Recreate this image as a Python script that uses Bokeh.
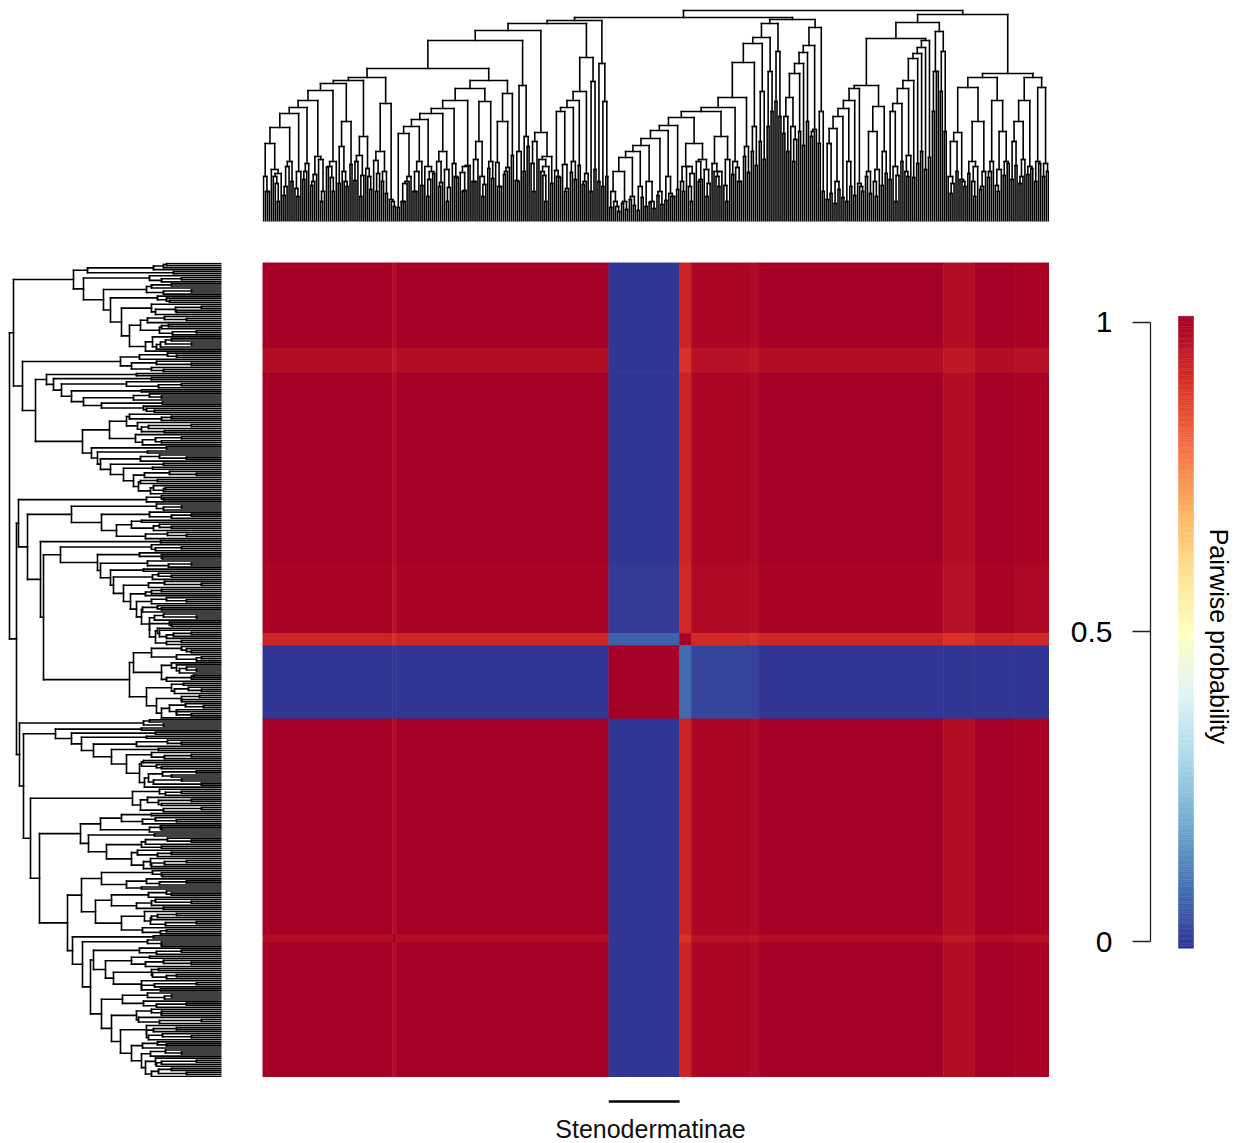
import numpy as np
from bokeh.plotting import figure
from bokeh.layouts import column, row
from bokeh.models import (ColumnDataSource, LinearColorMapper, LinearAxis, Range1d,
                          FixedTicker, Spacer, CustomJSTickFormatter)
from bokeh.transform import transform
from bokeh.core.properties import value
from bokeh.embed import file_html
from bokeh.resources import INLINE

# ---------------------------------------------------------------- data
# Column (top) dendrogram: merge heights between neighbouring tip pairs, per clade
TOP_J = [30, 78, 45, 20, 94, 35, 60, 108, 25, 114, 50, 121, 40, 65, 20, 131, 55, 30, 138, 75,
         40, 100, 141, 60, 25, 85, 45, 144, 30, 70, 50, 118, 20]
TOP_K = [88, 20, 40, 95, 30, 60, 102, 25, 50, 108, 35, 70, 20, 113, 45, 121, 30, 55, 133, 40,
         80, 25, 120, 60, 141, 35, 100, 50, 128]
TOP_I = [40, 136, 85]
TOP_G = [30, 89, 50, 20, 65]
TOP_E = [45, 110, 30, 114, 60, 121, 130, 40, 164, 140]
TOP_C = [158, 120]
TOP_LRA = [30, 15, 50, 20, 64, 25, 70, 35, 76, 40, 20, 83, 30, 91, 45, 25, 96, 104, 30, 55,
           20, 78, 40, 62, 25, 110, 50, 35, 85, 20, 114, 60, 40, 124, 75, 159, 95, 178, 130, 184,
           150, 198, 170]
TOP_LRB = [105, 124, 60, 148, 158, 169, 176, 90, 194, 110]
TOP_RA1 = [78, 93, 40, 105, 113, 60, 121, 133, 35, 136, 50, 90, 25, 115, 70]
TOP_RA2 = [110, 20, 118, 133, 45, 141, 163, 168, 174, 181]
TOP_RA3 = [150, 190, 170]
TOP_RB = [28, 80, 89, 40, 134, 60, 25, 100, 35, 144, 50, 121, 30, 90, 60, 148, 80, 100, 45, 121,
          55, 144, 60, 134, 58]
TOP_CLADES = [TOP_J, TOP_K, TOP_I, TOP_G, TOP_E, TOP_C, TOP_LRA, TOP_LRB,
              TOP_RA1, TOP_RA2, TOP_RA3, TOP_RB]
TOP_JOINS = [153, 181, 191, 198, 201, 204, 202, 211, 183, 199, 207]
# merge height inside each terminal pair (left to right)
TOP_PAIRS = [45, 30, 52, 38, 48, 26, 55, 40, 33, 50,
             42, 58, 36, 47, 62, 30, 54, 44, 60, 38,
             50, 35, 57, 41, 66, 46, 53, 32, 61, 48,
             40, 28, 22, 15,
             14, 20, 38, 45, 30, 50,
             36, 55, 42, 48, 60, 39, 52, 34, 58, 44,
             49, 31, 56, 40, 62, 45, 37, 53, 43, 59,
             35, 47, 54, 66, 41, 70, 50, 75, 58, 80,
             62, 46, 55, 38, 51, 44, 57, 33, 49, 42,
             56, 37, 48, 30, 52, 40, 35, 45,
             14, 20, 10, 18, 12, 22, 16, 11, 24, 15, 19, 13, 26, 17, 21, 28, 25, 32,
             40, 55, 35, 48, 60, 42, 52, 38, 58, 45, 50, 36, 62, 47,
             54, 40, 65, 49, 70, 56, 80, 62, 95, 110,
             120, 105, 88, 70, 95, 82, 90, 76, 100, 85,
             92, 78, 30, 22, 28, 18, 32, 24, 20, 35,
             26, 38, 30, 45, 28, 40, 52, 36, 48, 42,
             55, 46, 60, 50, 66, 44, 58, 70, 52, 64,
             110, 150, 130, 90, 45, 38, 50, 42, 35, 48,
             40, 55, 32, 50, 44, 60, 36, 52, 46, 58,
             42, 56, 38, 62, 47, 53, 40, 58, 45, 50]

# Row (left) dendrogram
LEFT_T1 = [58, 134, 148, 40, 138, 70, 30, 118, 55, 111, 20, 45, 100, 35, 81, 60, 25, 92, 50, 30, 65]
LEFT_T2 = [45, 101, 30, 70, 199, 175, 168, 40, 160, 150, 60, 138, 120, 75, 186, 50, 95, 30, 80,
           112, 40, 60, 139, 130, 124, 35, 121, 111, 98, 25, 88, 81, 68, 58]
LEFT_BU = [58, 203, 40, 150, 30, 120, 90, 50, 105, 35, 194, 181, 40, 161, 60, 124, 30, 121, 111,
           50, 108, 20, 98, 70, 91, 35, 85, 60, 80, 25, 72, 50, 64, 30, 55, 40, 178, 35, 70, 20,
           88, 45, 25, 60, 30, 92, 50, 20, 75, 40, 65, 18, 45, 30]
LEFT_BL = [78, 202, 166, 150, 140, 40, 128, 110, 30, 95, 80, 60, 25, 50, 40, 20, 198, 40, 89, 30,
           60, 20, 191, 100, 45, 121, 60, 141, 133, 30, 80, 115, 50, 90, 35, 70, 182, 60, 120, 35,
           95, 140, 50, 110, 30, 85, 126, 45, 70, 25, 100, 55, 154, 149, 60, 139, 40, 128, 90, 30,
           116, 70, 45, 108, 25, 80, 131, 50, 99, 35, 120, 60, 85, 20, 110, 45, 75, 30, 101, 55,
           90, 40, 80, 25, 65, 50, 35]
LEFT_CLADES = [LEFT_T1, LEFT_T2, LEFT_BU, LEFT_BL]
LEFT_JOINS = [208, 212, 205]
LEFT_PAIRS = [55, 68, 48, 72, 60, 50, 75, 58, 64, 52,
              70, 46, 66, 57, 74, 53, 62, 49, 69, 56,
              61, 76, 54, 82, 65, 90, 58, 85, 70, 95,
              63, 80, 72, 88, 59, 78, 67, 92, 60, 84,
              73, 57, 86, 66, 79, 55, 74, 62, 81, 58,
              69, 52, 77, 64, 83, 56, 71, 60, 75, 65,
              58, 72, 50, 80, 62, 68, 54, 76, 61, 70,
              66, 82, 59, 74, 53, 78, 63, 69, 57, 73,
              60, 76, 55, 70, 64, 79, 58, 67, 52, 72,
              62, 48, 66, 55, 40, 30, 45, 25, 50, 35,
              42, 28, 55, 38, 33, 47, 22, 40, 36, 52,
              45, 60, 72, 58, 80, 66, 75, 54, 85, 63,
              70, 57, 78, 65, 82, 59, 73, 68, 77, 62,
              56, 74, 63, 81, 58, 70, 66, 79, 61, 72,
              67, 54, 76, 60, 84, 64, 71, 57, 78, 69,
              59, 75, 62, 80, 55, 73, 66, 70, 58, 77,
              64, 71, 56, 79, 61, 68, 74, 60, 82, 65,
              72, 58, 76, 63, 69, 55, 80, 67, 61, 74,
              57, 78, 65, 70, 60, 83, 62, 75, 68, 59,
              73, 64, 79, 56, 71, 66, 60, 76, 63, 70]

# Heatmap bands (columns): size in taxa, clade (1 = Stenodermatinae), deficit, cross value, tag
COL_SIZES = [66, 2, 108, 36, 6, 30, 4, 94, 16, 20, 18]
COL_GROUP = [0, 0, 0, 1, 0, 0, 0, 0, 0, 0, 0]
COL_DEV = [0.0, 0.025, 0.0, 0.0, 0.075, 0.01, 0.02, 0.0, 0.025, 0.0, 0.008]
COL_CROSS = [0.0, 0.0, 0.0, 0.0, 0.085, 0.025, 0.02, 0.0, 0.0, 0.0, 0.0]
COL_TAG = ["", "b", "", "", "a", "", "", "", "", "", ""]

# Heatmap bands (rows)
ROW_SIZES = [42, 12, 94, 34, 6, 36, 106, 4, 66]
ROW_GROUP = [0, 0, 0, 0, 0, 1, 0, 0, 0]
ROW_DEV = [0.0, 0.025, 0.0, 0.008, 0.075, 0.0, 0.0, 0.025, 0.0]
ROW_CROSS = [0.0, 0.0, 0.0, 0.01, 0.07, 0.0, 0.0, 0.0, 0.0]
ROW_TAG = ["", "", "", "", "a", "", "", "b", ""]

SAME_LEVEL = 0.997
CROSS_LEVEL = 0.0

CB_TICKS = [0, 0.5, 1]
CB_TITLE = "Pairwise probability"
CLADE_LABEL = "Stenodermatinae"

# ---------------------------------------------------------------- helpers
FONT = "Liberation Sans"
RDYLBU = ['#313695', '#4575b4', '#74add1', '#abd9e9', '#e0f3f8', '#ffffbf',
          '#fee090', '#fdae61', '#f46d43', '#d73027', '#a50026']


def make_palette(hexes, n=256):
    rgb = np.array([[int(h[i:i + 2], 16) for i in (1, 3, 5)] for h in hexes], float)
    pos = np.linspace(0, 1, len(hexes))
    t = np.linspace(0, 1, n)
    cols = np.stack([np.interp(t, pos, rgb[:, k]) for k in range(3)], 1)
    return ["#%02x%02x%02x" % tuple(int(round(v)) for v in c) for c in cols]


PAL = make_palette(RDYLBU)
mapper = LinearColorMapper(palette=PAL, low=0, high=1)


def assemble(clades, joins, pairs):
    coarse = []
    for i, c in enumerate(clades):
        coarse.extend(c)
        if i < len(joins):
            coarse.append(joins[i])
    assert len(coarse) + 1 == len(pairs)
    h = []
    for i, p in enumerate(pairs):
        h.append(p)
        if i < len(coarse):
            h.append(coarse[i])
    return h


def dendro(h):
    pos0, ht0, pos1, ht1 = [], [], [], []

    def build(a, b):
        if a == b:
            return a + 0.5, 0.0
        m = a + int(np.argmax(h[a:b]))
        H = h[m]
        pl, hl = build(a, m)
        pr, hr = build(m + 1, b)
        pos0.extend([pl, pl, pr]); ht0.extend([H, H, H])
        pos1.extend([pr, pl, pr]); ht1.extend([H, hl, hr])
        return (pl + pr) / 2.0, H

    build(0, len(h))
    return dict(p0=pos0, h0=ht0, p1=pos1, h1=ht1)


top_h = assemble(TOP_CLADES, TOP_JOINS, TOP_PAIRS)
left_h = assemble(LEFT_CLADES, LEFT_JOINS, LEFT_PAIRS)
NC = len(top_h) + 1
NR = len(left_h) + 1

col_edges = np.concatenate([[0], np.cumsum(COL_SIZES)])
row_edges = np.concatenate([[0], np.cumsum(ROW_SIZES)])

L, R, T, B, V = [], [], [], [], []
for i in range(len(ROW_SIZES)):
    for j in range(len(COL_SIZES)):
        if ROW_GROUP[i] == COL_GROUP[j]:
            if ROW_TAG[i] and ROW_TAG[i] == COL_TAG[j]:
                v = SAME_LEVEL
            else:
                v = SAME_LEVEL - ROW_DEV[i] - COL_DEV[j]
        else:
            v = CROSS_LEVEL + ROW_CROSS[i] + COL_CROSS[j]
        L.append(col_edges[j]); R.append(col_edges[j + 1])
        T.append(row_edges[i]); B.append(row_edges[i + 1])
        V.append(v)
heat_src = ColumnDataSource(dict(left=L, right=R, top=T, bottom=B, v=V))

# ---------------------------------------------------------------- figures
def bare(**kw):
    p = figure(toolbar_location=None, output_backend="svg",
               x_axis_location=None, y_axis_location=None,
               min_border_left=0, min_border_right=0, min_border_top=0, min_border_bottom=0,
               **kw)
    p.outline_line_color = None
    p.xgrid.visible = False
    p.ygrid.visible = False
    p.background_fill_color = "white"
    p.border_fill_color = "white"
    return p


DEND_W = 1.6

# heatmap
heat = bare(width=787, height=815, x_range=Range1d(0, NC), y_range=Range1d(NR, 0))
heat.quad(left="left", right="right", top="top", bottom="bottom", source=heat_src,
          fill_color=transform("v", mapper), line_color=transform("v", mapper), line_width=0.6)

# top dendrogram
top = bare(width=787, height=262, x_range=Range1d(0, NC), y_range=Range1d(0, 221))
top.min_border_bottom = 41
td = dendro(top_h)
top.segment(x0="p0", y0="h0", x1="p1", y1="h1", source=ColumnDataSource(td),
            line_color="black", line_width=DEND_W, line_cap="square")

# left dendrogram
left = bare(width=262, height=815, x_range=Range1d(221, 0), y_range=Range1d(NR, 0))
left.min_border_right = 41
ld = dendro(left_h)
left.segment(x0="h0", y0="p0", x1="h1", y1="p1", source=ColumnDataSource(ld),
             line_color="black", line_width=DEND_W, line_cap="square")

# colour key
cb = bare(width=189, height=815, x_range=Range1d(0, 88), y_range=Range1d(-0.2197, 1.0969))
cb.min_border_left = 101
lo, hi = -0.011, 1.01
edges = np.linspace(lo, hi, len(PAL) + 1)
cb.quad(left=28, right=43, bottom=edges[:-1], top=edges[1:], fill_color=PAL, line_color=PAL,
        line_width=0.5)
ax = LinearAxis(ticker=FixedTicker(ticks=CB_TICKS), bounds=(0, 1),
                formatter=CustomJSTickFormatter(code="return tick.toString();"))
ax.axis_line_color = "#222222"
ax.axis_line_width = 1.3
ax.major_tick_line_color = "#222222"
ax.major_tick_line_width = 1.3
ax.minor_tick_line_color = None
ax.major_tick_out = 18
ax.major_tick_in = 0
ax.major_label_standoff = 20
ax.major_label_text_font = FONT
ax.major_label_text_font_size = "30px"
ax.major_label_text_color = "black"
cb.add_layout(ax, "left")
cb.text(x=[68], y=[0.493], text=[CB_TITLE], angle=-np.pi / 2, text_align="center",
        text_baseline="middle", text_font=value(FONT), text_font_size="25px", text_color="black")

# clade label below heatmap
steno_idx = [j for j, g in enumerate(COL_GROUP) if g == 1][0]
s0, s1 = col_edges[steno_idx], col_edges[steno_idx + 1]
lab = bare(width=787, height=66, x_range=Range1d(0, NC), y_range=Range1d(66, 0))
lab.segment(x0=[s0], y0=[24], x1=[s1], y1=[24], line_color="black", line_width=2.5)
lab.text(x=[(s0 + s1) / 2 + 3.2], y=[51], text=[CLADE_LABEL], text_align="center",
         text_baseline="middle", text_font=value(FONT), text_font_size="25px", text_color="#111111")

layout = column(
    row(Spacer(width=262, height=262), top, Spacer(width=189, height=262)),
    row(left, heat, cb),
    row(Spacer(width=262, height=66), lab, Spacer(width=189, height=66)),
)

open("out.html", "w").write(file_html(layout, INLINE))
